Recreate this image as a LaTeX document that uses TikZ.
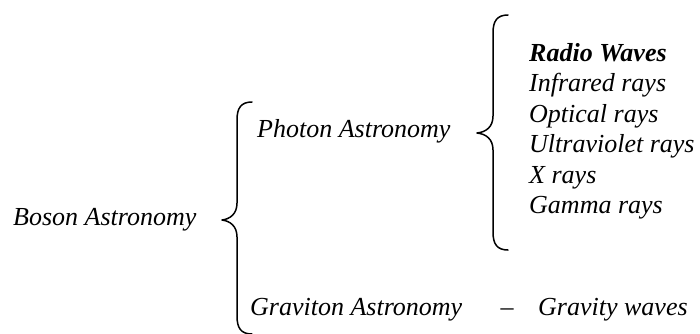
\documentclass[tikz,border=0pt]{standalone}
\usepackage{fontspec}
\setmainfont{Liberation Serif}
\begin{document}
\begin{tikzpicture}[x=1pt,y=-1pt,
  lbl/.style={anchor=base west,inner sep=0pt,font=\fontsize{26}{30}\selectfont\itshape},
  brace/.style={line width=1.5pt,line cap=round,line join=round}]
\useasboundingbox (0,0) rectangle (700,333);
% texts
\node[lbl] (boson) at (13,225) {Boson Astronomy};
\node[lbl] (photon) at (257,137) {Photon Astronomy};
\node[lbl] (graviton) at (250,315) {Graviton Astronomy};
\node[lbl,anchor=base] (dash) at (507,315) {–};
\node[lbl] (gravity) at (538,315) {Gravity waves};
\node[lbl,font=\fontsize{26}{30}\selectfont\bfseries\itshape] (radio) at (529,61) {Radio Waves};
\node[lbl] (infra) at (529,91.5) {Infrared rays};
\node[lbl] (optical) at (529,122) {Optical rays};
\node[lbl] (uv) at (529,152.5) {Ultraviolet rays};
\node[lbl] (xray) at (529,183) {X rays};
\node[lbl] (gamma) at (529,213.5) {Gamma rays};
% big brace
\coordinate (bt) at (252,102);
\coordinate (btip) at (222,220);
\coordinate (bb) at (252,334);
\draw[brace] (bt) .. controls (241,102) and (237,108) .. (237,120)
  -- (237,203) .. controls (237,214) and (230,219) .. (btip)
  .. controls (230,221) and (237,226) .. (237,237)
  -- (237,316) .. controls (237,328) and (241,334) .. (bb);
% photon brace
\coordinate (pt) at (508,15);
\coordinate (ptip) at (477,133);
\coordinate (pb) at (508,250);
\draw[brace] (pt) .. controls (497,15) and (493,21) .. (493,33)
  -- (493,116) .. controls (493,127) and (486,132) .. (ptip)
  .. controls (486,134) and (493,139) .. (493,150)
  -- (493,232) .. controls (493,244) and (497,250) .. (pb);
\end{tikzpicture}
\end{document}
